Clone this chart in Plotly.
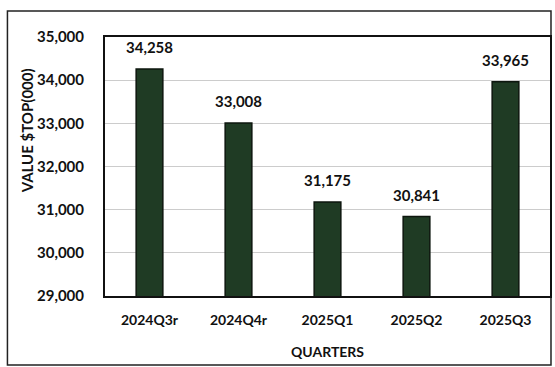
import plotly.graph_objects as go

# Quarterly values, $000
quarters = ["2024Q3r", "2024Q4r", "2025Q1", "2025Q2", "2025Q3"]
values = [34258, 33008, 31175, 30841, 33965]
y_ticks = [29000, 30000, 31000, 32000, 33000, 34000, 35000]

W, H = 555, 367
L, R, T, B = 105, 3, 37, 71
pw, ph = W - L - R, H - T - B

FONT = "Lato"
INK = "#111111"

fig = go.Figure(
    go.Bar(
        x=quarters,
        y=values,
        marker=dict(color="#1f3b24", line=dict(color="#0d160e", width=1.5)),
        width=0.3,
        hoverinfo="x+y",
    )
)

# value labels above each bar
for q, v in zip(quarters, values):
    fig.add_annotation(
        x=q, y=v, text=f"{v:,}", showarrow=False,
        yanchor="bottom", yshift=11,
        font=dict(family=FONT, size=15, color=INK, weight="bold"),
    )

# y-axis title, placed in the left margin
fig.add_annotation(
    xref="paper", yref="paper",
    x=(27 - L) / pw, y=(H - B - 131) / ph,
    text="VALUE $TOP(000)", textangle=-90, showarrow=False,
    xanchor="center", yanchor="middle",
    font=dict(family=FONT, size=15, color=INK, weight="bold"),
)

# outer chart frame
fig.add_shape(
    type="rect", xref="paper", yref="paper",
    x0=(7 - L) / pw, x1=(553 - L) / pw,
    y0=-(365 - T - ph) / ph, y1=1 + (T - 11) / ph,
    line=dict(color="#222222", width=1.5), layer="below",
)

fig.update_layout(
    width=W, height=H,
    margin=dict(l=L, r=R, t=T, b=B),
    paper_bgcolor="white", plot_bgcolor="white",
    showlegend=False,
    font=dict(family=FONT, color=INK),
    xaxis=dict(
        showline=True, linecolor=INK, linewidth=2, mirror=True,
        tickfont=dict(family=FONT, size=14, color=INK, weight="bold"),
        ticks="outside", ticklen=10, tickcolor="rgba(0,0,0,0)",
        title=dict(text="QUARTERS", font=dict(family=FONT, size=14, weight="bold"), standoff=20),
    ),
    yaxis=dict(
        range=[29000, 35000], tickvals=y_ticks, tickformat=",",
        showline=True, linecolor=INK, linewidth=2, mirror=True,
        gridcolor="#cccccc", gridwidth=1,
        tickfont=dict(family=FONT, size=15, color=INK, weight="bold"),
        ticks="outside", ticklen=16, tickcolor="rgba(0,0,0,0)",
    ),
)

fig.write_html("out.html")
